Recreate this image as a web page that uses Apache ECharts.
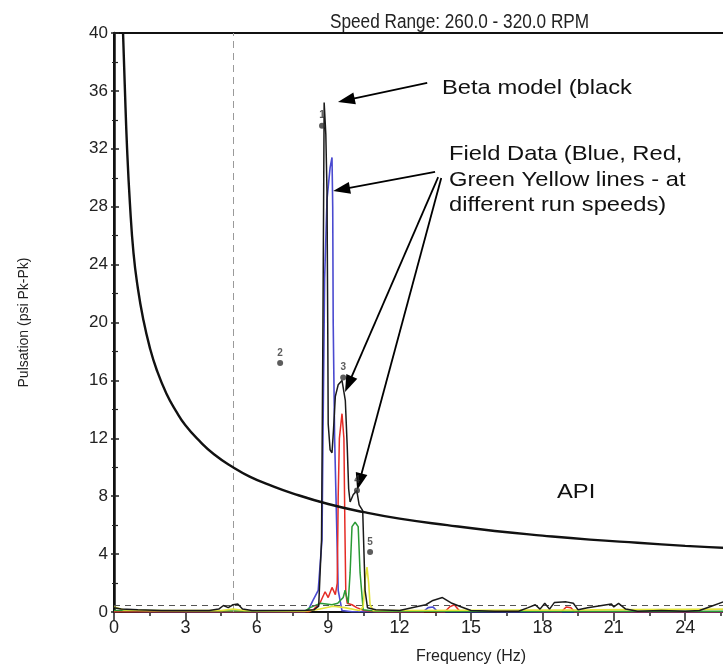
<!DOCTYPE html>
<html>
<head>
<meta charset="utf-8">
<style>
  html, body { margin: 0; padding: 0; background: #fff; overflow: hidden; width: 723px; height: 668px; }
  #chart { width: 828px; height: 668px; position: absolute; left: 0; top: 0; }
</style>
<script src="https://cdn.jsdelivr.net/npm/echarts@6/dist/echarts.min.js"></script>
</head>
<body>
<div id="chart"></div>
<script>
// ---- Axis ticks ----
const xTicks = { min: 0, max: 30, interval: 3 };
const yTicks = { min: 0, max: 40, interval: 4 };

// ---- API allowable pulsation curve ----
const apiCurve = [
  [0.38, 40], [0.45, 36.5], [0.55, 32], [0.67, 28.2], [0.82, 24.8], [1.0, 22.4],
  [1.22, 20.3], [1.5, 18.3], [1.8, 16.7], [2.2, 15.1], [2.6, 13.9], [3.0, 12.9],
  [3.6, 11.8], [4.2, 10.9], [5.0, 10.0], [5.7, 9.35], [6.5, 8.8], [7.5, 8.2],
  [9.0, 7.46], [10.5, 6.9], [12, 6.45], [14, 6.0], [16, 5.6], [18, 5.28],
  [20, 5.0], [22, 4.78], [24, 4.57], [26, 4.4], [28, 4.23], [30, 4.09]
];

// ---- Beta model (black) ----
const betaModel = [
  [0, 0.3], [0.3, 0.2], [1, 0.15], [2, 0.1], [3, 0.1], [4, 0.1], [4.4, 0.2], [4.6, 0.45],
  [4.8, 0.3], [5.0, 0.5], [5.2, 0.55], [5.4, 0.2], [5.8, 0.1], [7, 0.1], [8, 0.1],
  [8.4, 0.15], [8.6, 0.4], [8.72, 5], [8.78, 20], [8.83, 35.2], [8.9, 33], [8.95, 29],
  [8.98, 20], [9.0, 13], [9.08, 11.2], [9.16, 11], [9.22, 12.5], [9.3, 14.9], [9.42, 15.7],
  [9.58, 16], [9.72, 14.6], [9.8, 11.4], [9.86, 8.5], [9.92, 7.6], [10.05, 8.1], [10.2, 8.4],
  [10.3, 7.4], [10.45, 7.0], [10.53, 7.0], [10.55, 1.5], [10.65, 0.3], [11, 0.15],
  [12, 0.1], [12.8, 0.4], [13.1, 0.5], [13.4, 0.8], [13.8, 1.0], [14.2, 0.6], [14.6, 0.35],
  [15.0, 0.1], [16, 0.05], [17, 0.05], [17.4, 0.3], [17.7, 0.5], [17.9, 0.2], [18.1, 0.6],
  [18.3, 0.2], [18.5, 0.65], [19.0, 0.7], [19.3, 0.6], [19.5, 0.15], [19.9, 0.3], [20.5, 0.45],
  [20.9, 0.55], [21.0, 0.35], [21.2, 0.6], [21.5, 0.2], [22, 0.05], [23, 0.1], [24, 0.05],
  [24.6, 0.1], [25.1, 0.4], [25.6, 0.7], [26, 0.8]
];

// ---- Field data (different run speeds) ----
const fieldBlue = [
  [0, 0.05], [2, 0.02], [5, 0.02], [8.0, 0.02], [8.15, 0.1], [8.36, 0.8], [8.58, 1.5],
  [8.74, 5], [8.78, 12], [8.85, 23], [8.95, 28.5], [9.08, 30.7], [9.16, 31.4], [9.19, 28],
  [9.21, 20], [9.27, 12], [9.37, 5], [9.42, 1.5], [9.58, 0.1], [10, 0.02], [13.0, 0.02],
  [13.2, 0.3], [13.4, 0.35], [13.6, 0.02], [18, 0.0], [26, 0.0]
];
const fieldRed = [
  [0, 0.02], [8.2, 0.02], [8.4, 0.2], [8.65, 0.6], [8.87, 1.4], [9.0, 1.0], [9.16, 1.7],
  [9.3, 1.2], [9.38, 2], [9.42, 8], [9.47, 12], [9.58, 13.7], [9.66, 12], [9.7, 6],
  [9.74, 1.3], [9.8, 0.6], [10.0, 0.5], [10.2, 0.3], [10.5, 0.1], [11, 0.02], [13.9, 0.02],
  [14.1, 0.35], [14.3, 0.5], [14.5, 0.1], [18.8, 0.02], [19.0, 0.35], [19.2, 0.3],
  [19.35, 0.02], [26, 0.02]
];
const fieldGreen = [
  [0, 0.1], [8.0, 0.05], [8.24, 0.3], [8.66, 0.6], [9.16, 0.5], [9.4, 0.6], [9.63, 1.0],
  [9.71, 1.5], [9.84, 0.6], [9.92, 2.7], [10.0, 5.9], [10.13, 6.2], [10.26, 5.9],
  [10.34, 2.7], [10.47, 0.15], [11, 0.05], [26, 0.05]
];
const fieldYellow = [
  [0, 0.35], [0.4, 0.15], [1.5, 0.1], [4.5, 0.1], [5.0, 0.2], [5.5, 0.1], [8, 0.05],
  [8.5, 0.15], [9.2, 0.4], [9.7, 0.3], [10.3, 0.1], [10.47, 0.35], [10.55, 2.2],
  [10.63, 3.1], [10.7, 2], [10.76, 0.5], [10.9, 0.1], [12, 0.1], [20, 0.15], [26, 0.2]
];

// ---- Numbered model points ----
const markerPoints = [
  [8.74, 33.6, '1'], [6.98, 17.2, '2'], [9.63, 16.2, '3'], [10.21, 8.4, '4'], [10.76, 4.15, '5']
];

// ---- Reference lines ----
const speedLimitHz = 5;
const noiseFloor = 0.5;

// ---- Annotation arrows: [start, arrow-head centre] in data units ----
const arrows = [
  [[13.16, 36.55], [9.76, 35.36]],
  [[13.49, 30.4], [9.56, 29.2]],
  [[13.62, 30.05], [9.85, 15.74]],
  [[13.75, 29.98], [10.31, 9.0]]
];

const chart = echarts.init(document.getElementById('chart'), null, { renderer: 'canvas', width: 828, height: 668 });

const lineSeries = (name, data, color, width, z) => ({
  name, type: 'line', data, showSymbol: false, symbol: 'none', z,
  lineStyle: { color, width }, silent: true, clip: true
});

const FONT = 'Liberation Sans';

const option = {
  animation: false,
  backgroundColor: '#ffffff',
  grid: { left: 114, top: 33, bottom: 56, right: 0, outerBoundsMode: 'none', containLabel: false,
          show: true, borderColor: '#111', borderWidth: 2, backgroundColor: 'transparent' },
  xAxis: {
    type: 'value', min: xTicks.min, max: xTicks.max, interval: xTicks.interval,
    name: 'Frequency (Hz)', nameLocation: 'middle', nameGap: 37,
    nameTextStyle: { fontFamily: FONT, fontSize: 16, color: '#222' },
    axisLine: { show: true, lineStyle: { color: '#111', width: 2 } },
    axisTick: { show: true, length: 9, lineStyle: { color: '#222', width: 1.5 } },
    minorTick: { show: true, splitNumber: 2, length: 4, lineStyle: { color: '#222', width: 1.5 } },
    axisLabel: { fontFamily: FONT, fontSize: 18, color: '#222', margin: 7 },
    splitLine: { show: false }
  },
  yAxis: [{
    type: 'value', min: yTicks.min, max: yTicks.max, interval: yTicks.interval,
    name: 'Pulsation (psi Pk-Pk)', nameLocation: 'middle', nameGap: 83,
    nameTextStyle: { fontFamily: FONT, fontSize: 14, color: '#222' },
    axisLine: { show: true, lineStyle: { color: '#111', width: 2.5 } },
    axisTick: { show: true, length: 3, lineStyle: { color: '#222', width: 1.5 } },
    minorTick: { show: true, splitNumber: 2, length: 2, lineStyle: { color: '#222', width: 1.2 } },
    axisLabel: { fontFamily: FONT, fontSize: 17, color: '#222', margin: 6 },
    splitLine: { show: false }
  }, {
    type: 'value', min: yTicks.min, max: yTicks.max, interval: yTicks.interval, position: 'left',
    axisLine: { show: false },
    axisTick: { show: true, inside: true, length: 5, lineStyle: { color: '#222', width: 1.5 } },
    minorTick: { show: true, splitNumber: 2, length: 4, lineStyle: { color: '#222', width: 1.2 } },
    axisLabel: { show: false },
    splitLine: { show: false }
  }],
  series: [
    Object.assign(lineSeries('refs', [], '#000', 1, 1), {
      markLine: {
        silent: true, symbol: ['none', 'none'], label: { show: false },
        data: [
          { xAxis: speedLimitHz, lineStyle: { color: '#9a9a9a', type: [7, 5], width: 1 } },
          { yAxis: noiseFloor, lineStyle: { color: '#555', type: [6, 5], width: 1 } }
        ]
      }
    }),
    lineSeries('Blue', fieldBlue, '#4a4ad0', 1.6, 2),
    lineSeries('Red', fieldRed, '#e52b25', 1.5, 3),
    lineSeries('Green', fieldGreen, '#2a9a35', 1.5, 4),
    lineSeries('Yellow', fieldYellow, '#e4e43a', 1.6, 5),
    lineSeries('Beta model', betaModel, '#1a1a1a', 1.5, 6),
    Object.assign(lineSeries('API', apiCurve, '#111', 2.4, 7), { smooth: true }),
    {
      name: 'points', type: 'scatter', z: 8, silent: true,
      data: markerPoints.map(p => ({ value: [p[0], p[1]], name: p[2] })),
      symbol: 'circle', symbolSize: 6, itemStyle: { color: '#333' },
      label: { show: true, position: 'top', distance: 2, formatter: '{b}', fontFamily: FONT, fontSize: 10, fontWeight: 'bold', color: '#333' }
    },
    Object.assign(lineSeries('arrows', [], '#000', 1, 9), {
      markLine: {
        silent: true, symbol: ['none', 'triangle'], symbolSize: [12, 17], label: { show: false },
        lineStyle: { color: '#000', type: 'solid', width: 1.8 },
        data: arrows.map(a => [{ coord: a[0] }, { coord: a[1] }])
      }
    })
  ],
  graphic: [
    { type: 'text', x: 330, y: 22, scaleX: 0.86, silent: true,
      style: { text: 'Speed Range: 260.0 - 320.0 RPM', font: '20px "Liberation Sans"', fill: '#222', textAlign: 'left', textVerticalAlign: 'middle' } },
    { type: 'text', x: 442, y: 88.5, scaleX: 1.13, silent: true,
      style: { text: 'Beta model (black', font: '21px "Liberation Sans"', fill: '#111', textAlign: 'left', textVerticalAlign: 'middle' } },
    { type: 'text', x: 449, y: 154.5, scaleX: 1.13, silent: true,
      style: { text: 'Field Data (Blue, Red,', font: '21px "Liberation Sans"', fill: '#111', textAlign: 'left', textVerticalAlign: 'middle' } },
    { type: 'text', x: 449, y: 180.5, scaleX: 1.13, silent: true,
      style: { text: 'Green Yellow lines - at', font: '21px "Liberation Sans"', fill: '#111', textAlign: 'left', textVerticalAlign: 'middle' } },
    { type: 'text', x: 449, y: 205.5, scaleX: 1.13, silent: true,
      style: { text: 'different run speeds)', font: '21px "Liberation Sans"', fill: '#111', textAlign: 'left', textVerticalAlign: 'middle' } },
    { type: 'text', x: 557, y: 492, scaleX: 1.13, silent: true,
      style: { text: 'API', font: '21px "Liberation Sans"', fill: '#111', textAlign: 'left', textVerticalAlign: 'middle' } }
  ]
};

chart.setOption(option);
</script>
</body>
</html>
